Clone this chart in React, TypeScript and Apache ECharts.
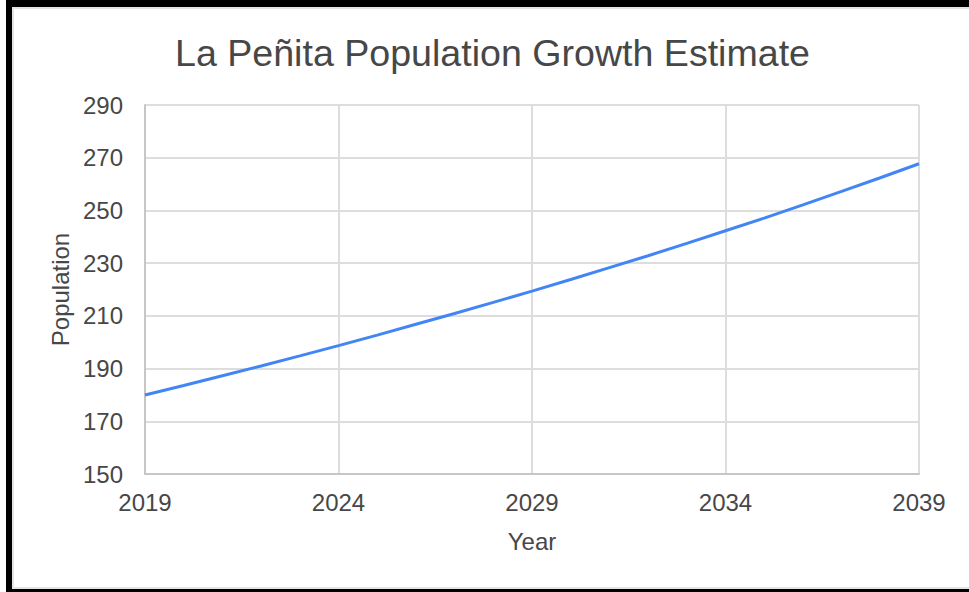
import React, { useEffect, useRef } from "react";
import * as echarts from "echarts";

const years: string[] = [
  "2019", "2020", "2021", "2022", "2023", "2024", "2025", "2026", "2027", "2028",
  "2029", "2030", "2031", "2032", "2033", "2034", "2035", "2036", "2037", "2038", "2039",
];
const population: number[] = [
  180.0, 183.6, 187.3, 191.0, 194.8, 198.7, 202.7, 206.8, 210.9, 215.1,
  219.4, 223.8, 228.3, 232.8, 237.5, 242.3, 247.1, 252.1, 257.2, 262.4, 267.7,
];
const yMin = 150;
const yMax = 290;
const yStep = 20;
const titleText = "La Peñita Population Growth Estimate";
const xName = "Year";
const yName = "Population";

const FONT = "'Liberation Sans', Arial, sans-serif";

export default function App() {
  const ref = useRef<HTMLDivElement>(null);
  useEffect(() => {
    if (!ref.current) return;
    const chart = echarts.init(ref.current, undefined, { renderer: "svg" });
    chart.setOption({
      animation: false,
      backgroundColor: "#ffffff",
      title: {
        text: titleText,
        left: 170,
        top: 29,
        textStyle: { fontFamily: FONT, fontSize: 37.6, fontWeight: "normal", color: "#474747" },
      },
      graphic: [
        { type: "rect", shape: { x: 6, y: 0, width: 963, height: 7 }, style: { fill: "#000" } },
        { type: "rect", shape: { x: 6, y: 0, width: 6, height: 592 }, style: { fill: "#000" } },
        { type: "rect", shape: { x: 6, y: 589, width: 963, height: 3 }, style: { fill: "#000" } },
        { type: "rect", shape: { x: 12, y: 7, width: 957, height: 2 }, style: { fill: "#e4e4e4" } },
        { type: "rect", shape: { x: 12, y: 7, width: 2, height: 582 }, style: { fill: "#e4e4e4" } },
        { type: "rect", shape: { x: 12, y: 587, width: 957, height: 2 }, style: { fill: "#e4e4e4" } },
      ],
      grid: { left: 145, right: 50, top: 105, bottom: 118, containLabel: false },
      xAxis: {
        type: "category",
        data: years,
        boundaryGap: false,
        name: xName,
        nameLocation: "middle",
        nameGap: 55,
        nameTextStyle: { fontFamily: FONT, fontSize: 24, color: "#474747" },
        axisLine: { show: true, lineStyle: { color: "#c6c6c6", width: 2 } },
        axisTick: { show: false },
        axisLabel: { interval: 4, margin: 16, fontFamily: FONT, fontSize: 24, color: "#474747" },
        splitLine: { show: true, interval: 4, lineStyle: { color: "#dddddd", width: 2 } },
      },
      yAxis: {
        type: "value",
        min: 0,
        max: yMax - yMin,
        interval: yStep,
        name: yName,
        nameLocation: "middle",
        nameGap: 71,
        nameTextStyle: { fontFamily: FONT, fontSize: 24, color: "#474747" },
        axisLine: { show: true, lineStyle: { color: "#c6c6c6", width: 2 } },
        axisTick: { show: false },
        axisLabel: {
          margin: 22,
          fontFamily: FONT,
          fontSize: 24,
          color: "#474747",
          formatter: (v: number) => String(v + yMin),
        },
        splitLine: { show: true, lineStyle: { color: "#dddddd", width: 2 } },
      },
      series: [
        {
          type: "line",
          data: population.map((v) => v - yMin),
          showSymbol: false,
          symbol: "none",
          lineStyle: { color: "#4285f4", width: 3 },
          itemStyle: { color: "#4285f4" },
        },
      ],
    });
    return () => chart.dispose();
  }, []);
  return (
    <div
      ref={ref}
      style={{ position: "fixed", left: 0, top: 0, width: 969, height: 592 }}
    />
  );
}
